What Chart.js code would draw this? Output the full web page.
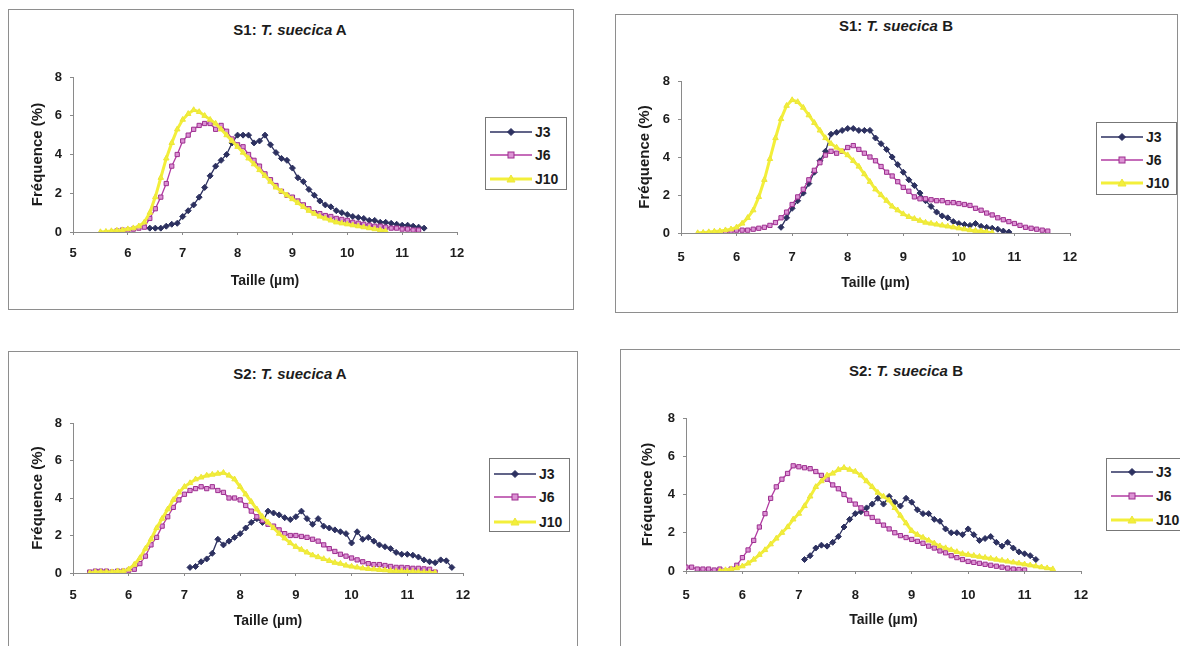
<!DOCTYPE html>
<html><head><meta charset="utf-8">
<script src="https://cdn.jsdelivr.net/npm/chart.js@4"></script>
<style>
html,body{margin:0;padding:0;background:#fff;}
body{width:1180px;height:646px;position:relative;overflow:hidden;font-family:"Liberation Sans",Arial,sans-serif;}
.frame{position:absolute;border:1px solid #8e8e8e;box-sizing:border-box;}
canvas.c{position:absolute;}
.ttl{position:absolute;transform:translate(-50%,-50%);font-weight:bold;font-size:15px;color:#1c1c1c;white-space:nowrap;}
.leg{position:absolute;border:1px solid #777;box-sizing:border-box;background:#fff;}
.row{position:absolute;left:4px;height:16px;display:flex;align-items:center;font-weight:bold;font-size:14px;color:#1c1c1c;}
.row svg{margin-right:3px;}
</style></head><body>
<script>
const _ = null;
// Taille (µm) categories, shared by every series
const tailles = [5.0,5.1,5.2,5.3,5.4,5.5,5.6,5.7,5.8,5.9,6.0,6.1,6.2,6.3,6.4,6.5,6.6,6.7,6.8,6.9,
  7.0,7.1,7.2,7.3,7.4,7.5,7.6,7.7,7.8,7.9,8.0,8.1,8.2,8.3,8.4,8.5,8.6,8.7,8.8,8.9,
  9.0,9.1,9.2,9.3,9.4,9.5,9.6,9.7,9.8,9.9,10.0,10.1,10.2,10.3,10.4,10.5,10.6,10.7,10.8,10.9,
  11.0,11.1,11.2,11.3,11.4,11.5,11.6,11.7,11.8,11.9,12.0];
const seriesNames = ["J3","J6","J10"];
const xTicks = [5,6,7,8,9,10,11,12];
const yTicks = [0,2,4,6,8];

// S1: T. suecica A
const s1A_J3 = [_,_,_,_,_,_,_,_,_,_,_,_,_,_,
  0.2,0.2,0.2,0.3,0.4,0.45,0.8,1.1,1.4,1.8,2.3,2.9,3.4,3.7,4.0,4.6,5.0,5.0,5.0,4.6,4.7,5.0,4.5,4.1,3.8,3.7,
  3.3,2.8,2.6,2.2,1.9,1.6,1.4,1.3,1.1,1.0,0.9,0.8,0.75,0.7,0.6,0.6,0.5,0.5,0.45,0.4,0.35,0.35,0.3,0.25,0.2];
const s1A_J6 = [_,_,_,_,_,_,_,_,
  0.05,0.1,0.1,0.15,0.2,0.25,
  0.7,1.2,1.8,2.5,3.4,4.0,4.7,5.0,5.3,5.5,5.6,5.6,5.3,5.5,5.2,4.8,4.5,4.4,4.0,3.7,3.4,3.0,2.7,2.4,2.1,1.9,
  1.8,1.6,1.4,1.2,1.0,0.95,0.85,0.8,0.7,0.65,0.6,0.5,0.45,0.4,0.35,0.3,0.3,0.25,0.2,0.2,0.15,0.15,0.1,0.1];
const s1A_J10 = [_,_,_,_,_,
  0.0,0.02,0.05,0.08,0.1,0.15,0.2,0.3,0.5,1.0,1.8,2.8,3.8,4.6,5.3,5.8,6.1,6.3,6.2,6.0,5.8,5.6,5.3,5.0,4.7,
  4.4,4.1,3.8,3.5,3.2,2.9,2.6,2.3,2.1,1.9,1.7,1.5,1.3,1.1,0.95,0.8,0.7,0.6,0.5,0.45,0.4,0.35,0.3,0.25,0.2,
  0.15,0.1,0.05];

// S1: T. suecica B
const s1B_J3 = [_,_,_,_,_,_,_,_,_,_,_,_,_,_,_,_,_,_,
  0.3,0.8,1.3,1.7,2.1,2.6,3.2,3.8,4.3,5.2,5.3,5.4,5.5,5.5,5.4,5.4,5.4,5.0,4.7,4.4,4.0,3.6,3.2,2.8,2.5,
  2.1,1.7,1.4,1.1,0.9,0.8,0.6,0.5,0.45,0.4,0.5,0.35,0.3,0.25,0.2,0.1,0.05];
const s1B_J6 = [_,_,_,_,_,_,_,_,
  0.05,0.1,0.15,0.15,0.15,0.2,0.25,0.3,0.4,0.55,0.8,1.1,1.5,1.9,2.3,2.8,3.3,3.7,4.1,4.3,4.2,4.3,4.5,4.6,
  4.4,4.2,4.0,3.8,3.5,3.2,3.0,2.7,2.4,2.2,1.9,1.8,1.8,1.75,1.7,1.7,1.6,1.6,1.55,1.5,1.45,1.3,1.2,1.05,
  0.95,0.8,0.7,0.6,0.5,0.4,0.3,0.25,0.2,0.15,0.1];
const s1B_J10 = [_,_,_,
  0.0,0.02,0.05,0.08,0.1,0.15,0.2,0.3,0.5,0.8,1.2,1.9,2.8,3.9,5.0,6.0,6.7,7.0,6.9,6.6,6.2,5.8,5.4,5.0,
  4.7,4.5,4.3,4.1,3.8,3.5,3.1,2.7,2.3,2.0,1.7,1.4,1.2,1.0,0.85,0.75,0.65,0.55,0.5,0.45,0.4,0.35,0.3,
  0.25,0.2,0.15,0.12,0.1,0.05,0.02];

// S2: T. suecica A
const s2A_J3 = [_,_,_,_,_,_,_,_,_,_,_,_,_,_,_,_,_,_,_,_,_,
  0.3,0.35,0.6,0.75,1.05,1.8,1.5,1.7,1.9,2.1,2.4,2.7,2.9,2.7,3.3,3.2,3.1,2.95,2.85,3.0,3.3,2.9,2.6,2.9,
  2.5,2.4,2.3,2.2,2.1,1.6,2.2,1.8,1.9,1.7,1.5,1.4,1.3,1.1,1.0,1.0,0.95,0.85,0.7,0.6,0.55,0.7,0.65,0.3];
const s2A_J6 = [_,_,_,
  0.05,0.1,0.1,0.1,0.05,0.1,0.1,0.15,0.2,0.5,0.9,1.5,1.9,2.5,3.0,3.5,3.9,4.2,4.4,4.5,4.6,4.5,4.6,4.4,
  4.3,4.0,4.0,3.9,3.6,3.3,3.0,2.8,2.6,2.5,2.3,2.1,2.0,2.0,1.95,1.9,1.8,1.7,1.5,1.3,1.15,1.0,0.9,0.8,
  0.7,0.6,0.5,0.45,0.45,0.4,0.35,0.3,0.3,0.28,0.25,0.25,0.22,0.2,0.05];
const s2A_J10 = [_,_,_,
  0.0,0.05,0.05,0.05,0.05,0.1,0.1,0.2,0.45,0.8,1.3,1.8,2.4,2.9,3.4,3.9,4.3,4.6,4.8,5.0,5.1,5.2,5.25,5.3,
  5.35,5.2,5.0,4.6,4.2,3.8,3.4,3.0,2.7,2.4,2.1,1.85,1.6,1.4,1.25,1.1,0.95,0.85,0.75,0.65,0.55,0.5,0.4,
  0.35,0.3,0.25,0.22,0.2,0.17,0.15,0.12,0.1,0.1,0.08,0.07,0.05,0.04,0.03,0.02];

// S2: T. suecica B
const s2B_J3 = [_,_,_,_,_,_,_,_,_,_,_,_,_,_,_,_,_,_,_,_,_,
  0.6,0.8,1.2,1.35,1.3,1.5,1.8,2.3,2.7,3.0,3.1,3.3,3.5,3.8,3.5,3.9,3.6,3.4,3.8,3.6,3.2,3.0,3.0,2.7,2.6,
  2.2,2.0,2.0,1.9,2.2,1.9,1.6,1.7,1.8,1.5,1.3,1.5,1.2,1.0,0.9,0.8,0.6];
const s2B_J6 = [
  0.2,0.2,0.1,0.1,0.1,0.05,0.1,0.0,0.1,0.3,0.7,1.1,1.6,2.3,3.0,3.8,4.4,4.8,5.1,5.5,5.45,5.4,5.35,5.2,
  5.0,4.8,4.5,4.3,4.0,3.7,3.5,3.3,3.0,2.8,2.6,2.4,2.2,2.0,1.85,1.75,1.65,1.55,1.45,1.3,1.2,1.05,0.95,
  0.8,0.7,0.6,0.5,0.45,0.4,0.35,0.3,0.25,0.2,0.15,0.1,0.08,0.05];
const s2B_J10 = [_,_,_,_,_,_,
  0.0,0.05,0.1,0.15,0.25,0.4,0.6,0.85,1.1,1.4,1.7,2.0,2.3,2.7,3.0,3.4,3.9,4.4,4.7,5.0,5.1,5.3,5.4,5.3,
  5.2,5.0,4.7,4.4,4.1,3.9,3.7,3.3,2.9,2.5,2.1,1.9,1.75,1.6,1.45,1.3,1.2,1.1,1.0,0.9,0.85,0.8,0.75,0.7,
  0.65,0.6,0.55,0.5,0.45,0.4,0.35,0.3,0.25,0.2,0.15,0.1];

const panels = [
  {titleA:"S1: ", titleB:"T. suecica", titleC:" A", series:[s1A_J3,s1A_J6,s1A_J10]},
  {titleA:"S1: ", titleB:"T. suecica", titleC:" B", series:[s1B_J3,s1B_J6,s1B_J10]},
  {titleA:"S2: ", titleB:"T. suecica", titleC:" A", series:[s2A_J3,s2A_J6,s2A_J10]},
  {titleA:"S2: ", titleB:"T. suecica", titleC:" B", series:[s2B_J3,s2B_J6,s2B_J10]}
];

// ---------- layout & styles (not data) ----------
const FONT = '"Liberation Sans", Arial, sans-serif';
const layouts = [
  {frame:[8,9,566,301], canvas:[8,9,565,300], area:[73,77,457,232], yTitleX:38, xTickY:253, xTitleY:281, yTickRight:62, title:[290,29], legend:[485,117,82,73], rows:[131,154,178]},
  {frame:[615,14,563,299], canvas:[615,14,562,298], area:[681,81,1070,233], yTitleX:645, xTickY:257, xTitleY:283, yTickRight:670, title:[896,25], legend:[1096,122,81,73], rows:[136,159,182]},
  {frame:[8,351,570,320], canvas:[8,351,570,295], area:[73,423,463,573], yTitleX:38, xTickY:595, xTitleY:621, yTickRight:62, title:[290,373], legend:[489,458,81,74], rows:[473,496,521]},
  {frame:[620,349,600,320], canvas:[620,349,560,297], area:[686,418,1081,571], yTitleX:648, xTickY:595, xTitleY:620, yTickRight:675, title:[906,370], legend:[1106,458,82,73], rows:[471,495,519]}
];
const styles = [
  {line:'#2d3160', fill:'#2d3160', edge:'#2d3160', shape:'rectRot', width:1.3, radius:3, order:3},
  {line:'#b23ba2', fill:'#dc92d4', edge:'#9d2f8f', shape:'rect', width:1.3, radius:3, order:2},
  {line:'#f3ef3a', fill:'#f3ef3a', edge:'#ece63a', shape:'triangle', width:3, radius:3.2, order:1}
];

function toPoints(vals){
  const out = [];
  for (let i = 0; i < vals.length && i < tailles.length; i++) {
    if (vals[i] !== null && vals[i] !== undefined) out.push({x: tailles[i], y: vals[i]});
  }
  return out;
}

function el(tag, cls, css){ const e=document.createElement(tag); if(cls) e.className=cls; Object.assign(e.style, css||{}); document.body.appendChild(e); return e; }

function legendSample(st){
  const ns='http://www.w3.org/2000/svg';
  const svg=document.createElementNS(ns,'svg'); svg.setAttribute('width','42'); svg.setAttribute('height','12');
  const ln=document.createElementNS(ns,'line');
  ln.setAttribute('x1','0');ln.setAttribute('y1','6');ln.setAttribute('x2','42');ln.setAttribute('y2','6');
  ln.setAttribute('stroke',st.line);ln.setAttribute('stroke-width',st.width);
  svg.appendChild(ln);
  let m;
  if(st.shape==='rectRot'){ m=document.createElementNS(ns,'polygon'); m.setAttribute('points','21,2.5 24.5,6 21,9.5 17.5,6'); }
  else if(st.shape==='rect'){ m=document.createElementNS(ns,'rect'); m.setAttribute('x','18');m.setAttribute('y','3');m.setAttribute('width','6');m.setAttribute('height','6'); }
  else { m=document.createElementNS(ns,'polygon'); m.setAttribute('points','21,2 25,9 17,9'); }
  m.setAttribute('fill',st.fill); m.setAttribute('stroke',st.edge); m.setAttribute('stroke-width','1');
  svg.appendChild(m);
  return svg;
}

panels.forEach((p, k) => {
  const L = layouts[k];
  el('div','frame',{left:L.frame[0]+'px',top:L.frame[1]+'px',width:L.frame[2]+'px',height:L.frame[3]+'px'});
  const t = el('div','ttl',{left:L.title[0]+'px',top:L.title[1]+'px'});
  t.appendChild(document.createTextNode(p.titleA));
  const it=document.createElement('i'); it.textContent=p.titleB; t.appendChild(it);
  t.appendChild(document.createTextNode(p.titleC));

  const [cl, ct, cw, ch] = L.canvas;
  const cv = el('canvas','c',{left:cl+'px',top:ct+'px',width:cw+'px',height:ch+'px'});
  cv.width=cw; cv.height=ch;
  const yW = L.area[0]-cl;
  const xH = ct+ch-L.area[3];
  const tl = 3;
  const tickSize = 13, xTitleSize = 14, yTitleSize = 15;
  const lhTick = tickSize*1.2, lhX = xTitleSize*1.2, lhY = yTitleSize*1.2;
  const datasets = p.series.map((vals, j) => {
    const st = styles[j];
    return {
      label: seriesNames[j], data: toPoints(vals),
      borderColor: st.line, backgroundColor: st.fill, borderWidth: st.width,
      pointStyle: st.shape, pointRadius: st.radius, pointBackgroundColor: st.fill,
      pointBorderColor: st.edge, pointBorderWidth: 1, tension: 0, order: st.order, fill:false
    };
  });
  new Chart(cv, {
    type:'line',
    data:{datasets},
    options:{
      responsive:false, animation:false, devicePixelRatio:1,
      layout:{padding:{left:0, top:L.area[1]-ct, right:cl+cw-L.area[2], bottom:0}},
      plugins:{legend:{display:false}, title:{display:false}, tooltip:{enabled:false}},
      scales:{
        x:{type:'linear', min:xTicks[0], max:xTicks[xTicks.length-1],
           afterFit(s){ s.height = xH; },
           afterBuildTicks(s){ s.ticks = xTicks.map(v=>({value:v})); },
           ticks:{font:{family:FONT,size:tickSize,weight:'bold'}, color:'#1c1c1c', maxRotation:0, autoSkip:false,
                  padding: L.xTickY - L.area[3] - tl - lhTick/2},
           grid:{drawOnChartArea:false, drawTicks:true, tickLength:tl, color:'#8a8a8a'},
           border:{display:true, color:'#8a8a8a', width:1},
           title:{display:true, text:'Taille (µm)', color:'#1c1c1c', font:{family:FONT,size:xTitleSize,weight:'bold'},
                  padding:{top:0, bottom: ct+ch-L.xTitleY-lhX/2}}},
        y:{min:yTicks[0], max:yTicks[yTicks.length-1],
           afterFit(s){ s.width = yW; },
           afterBuildTicks(s){ s.ticks = yTicks.map(v=>({value:v})); },
           ticks:{font:{family:FONT,size:tickSize,weight:'bold'}, color:'#1c1c1c', padding: L.area[0]-tl-L.yTickRight},
           grid:{drawOnChartArea:false, drawTicks:true, tickLength:tl, color:'#8a8a8a'},
           border:{display:true, color:'#8a8a8a', width:1},
           title:{display:true, text:'Fréquence (%)', color:'#1c1c1c', font:{family:FONT,size:yTitleSize,weight:'bold'},
                  padding:{top: L.yTitleX-cl-lhY/2, bottom:0}}}
      }
    }
  });

  const lg = el('div','leg',{left:L.legend[0]+'px',top:L.legend[1]+'px',width:L.legend[2]+'px',height:L.legend[3]+'px'});
  seriesNames.forEach((name, j) => {
    const r = document.createElement('div'); r.className='row';
    r.style.top = (L.rows[j]-L.legend[1]-8)+'px';
    r.appendChild(legendSample(styles[j]));
    const s = document.createElement('span'); s.textContent = name; r.appendChild(s);
    lg.appendChild(r);
  });
});
</script>
</body></html>
